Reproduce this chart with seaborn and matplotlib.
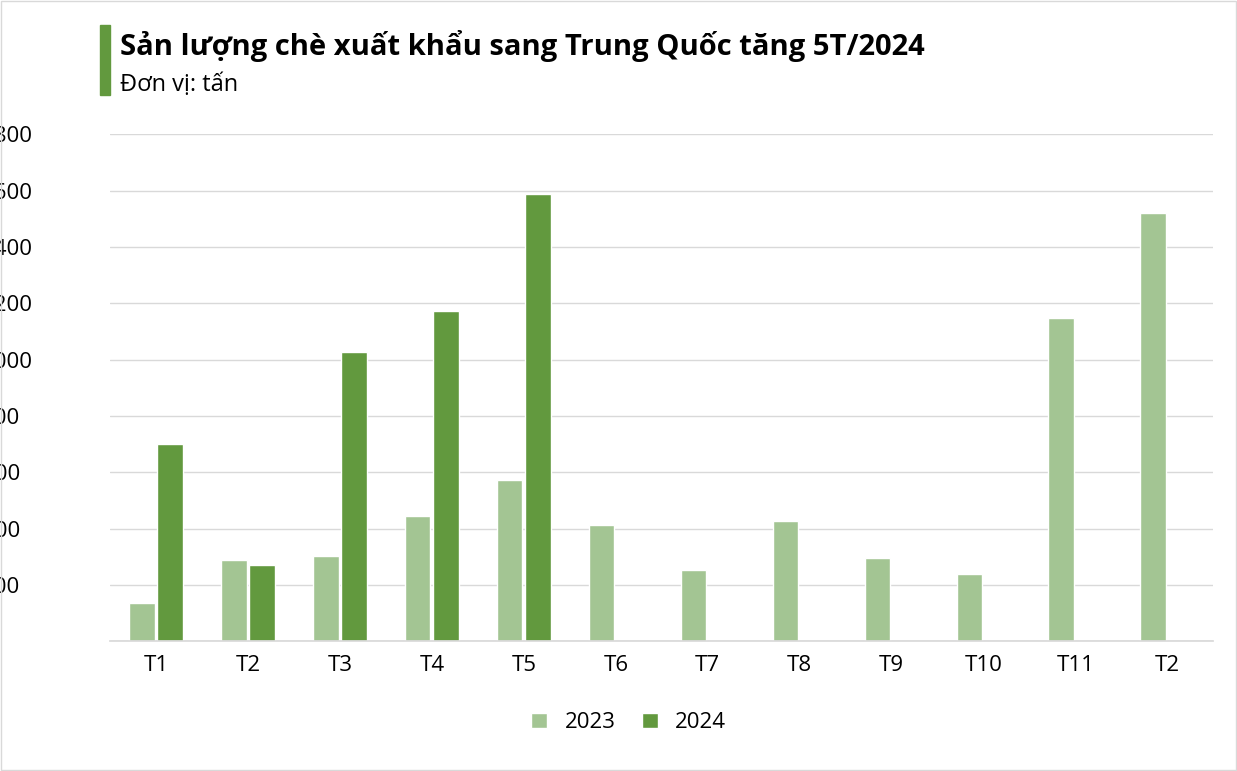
import pandas as pd
import matplotlib.pyplot as plt
import seaborn as sns

months = ["T1", "T2", "T3", "T4", "T5", "T6", "T7", "T8", "T9", "T10", "T11", "T2"]
vals_2023 = [135, 288, 305, 444, 572, 415, 252, 426, 295, 241, 1147, 1519]
vals_2024 = [699, 273, 1026, 1171, 1587, None, None, None, None, None, None, None]

rows = []
for i, m in enumerate(months):
    rows.append({"pos": i, "year": "2023", "value": vals_2023[i]})
    rows.append({"pos": i, "year": "2024", "value": vals_2024[i]})
df = pd.DataFrame(rows)

sns.set_theme(style="white")
plt.rcParams['font.family'] = ['Open Sans', 'Noto Sans', 'DejaVu Sans']
plt.rcParams['text.color'] = 'black'
plt.rcParams['xtick.color'] = 'black'
plt.rcParams['ytick.color'] = 'black'

fig = plt.figure(figsize=(12.37, 7.71), dpi=100)
ax = fig.add_axes([0.089, 0.168, 0.892, 0.658])

sns.barplot(data=df, x="pos", y="value", hue="year",
            palette={"2023": "#a3c593", "2024": "#62993e"}, saturation=1,
            width=0.62, gap=0.1, ax=ax, legend=True)

ax.set_xticks(range(len(months)))
ax.set_xticklabels(months, fontsize=16)
ax.set_ylim(0, 1800)
ax.set_yticks(range(0, 1801, 200))
ax.tick_params(axis='y', labelsize=16, length=0, pad=92)
ax.tick_params(axis='x', length=0, pad=10)
ax.yaxis.grid(True, color="#d9d9d9", linewidth=1)
ax.set_axisbelow(True)
for s in ["top", "right", "left"]:
    ax.spines[s].set_visible(False)
ax.spines["bottom"].set_color("#d9d9d9")
ax.set_xlabel("")
ax.set_ylabel("")
for t in ax.get_yticklabels():
    t.set_horizontalalignment("left")

ax.legend(loc="upper center", bbox_to_anchor=(0.47, -0.1), ncol=2, frameon=False,
          fontsize=16, handlelength=0.7, handleheight=0.7, columnspacing=1.2)

fig.patches.append(plt.Rectangle((0.081, 0.877), 0.008, 0.09, transform=fig.transFigure,
                                 color="#62993e", clip_on=False))
fig.text(0.097, 0.94, "Sản lượng chè xuất khẩu sang Trung Quốc tăng 5T/2024",
         fontsize=21, fontweight="bold", va="center")
fig.text(0.097, 0.89, "Đơn vị: tấn", fontsize=17, va="center")
fig.patches.append(plt.Rectangle((0.001, 0.001), 0.998, 0.998, transform=fig.transFigure,
                                 fill=False, edgecolor="#d9d9d9", linewidth=1))

fig.savefig("out.png", dpi=100)
